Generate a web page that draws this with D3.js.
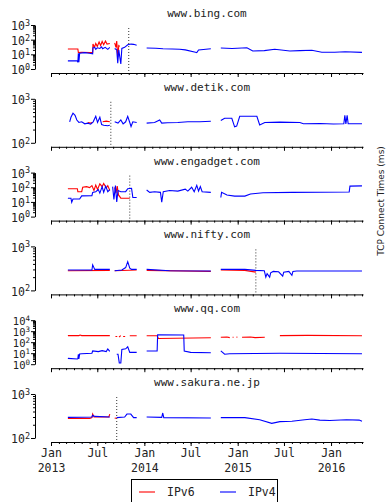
<!DOCTYPE html>
<html>
<head>
<meta charset="utf-8">
<script src="https://cdn.jsdelivr.net/npm/d3@7"></script>
<style>
  body { margin: 0; background: #fff; }
  text { font-family: "DejaVu Sans Mono", monospace; fill: #222; }
</style>
</head>
<body>
<svg id="chart" width="389" height="502"></svg>
<script>
// sites, one panel each
const sites = ["www.bing.com", "www.detik.com", "www.engadget.com", "www.nifty.com", "www.qq.com", "www.sakura.ne.jp"];
const decades = [[0, 3], [2, 3], [0, 3], [2, 3], [0, 4], [2, 3]];
// date at which the dotted marker is drawn (null = none)
const cutover = ["2013-11-01", "2013-08-23", "2013-11-05", "2015-03-13", null, "2013-09-15"];
const seriesNames = ["IPv6", "IPv4"];
const xTickLabels = ["Jan 2013", "Jul", "Jan 2014", "Jul", "Jan 2015", "Jul", "Jan 2016"];

// [date, ms] ; null value = gap in the measurements
const bingV6 = [["2013-03-08",23],["2013-04-16",23],["2013-04-18",13],["2013-05-01",14],["2013-06-01",13],["2013-06-13",14],
  ["2013-06-14",50],["2013-06-20",30],["2013-06-25",55],["2013-07-01",35],["2013-07-08",70],["2013-07-14",40],["2013-07-20",75],
  ["2013-07-26",45],["2013-08-02",80],["2013-08-08",50],["2013-08-19",55],["2013-08-25",null],
  ["2013-09-07",60],["2013-09-12",30],["2013-09-15",80],["2013-09-19",6.6],["2013-09-23",40],["2013-09-27",35]];
const bingV4 = [["2013-03-08",3.6],["2013-04-14",3.6],["2013-04-16",2.8],["2013-04-18",12],["2013-04-20",2.9],["2013-04-23",12],
  ["2013-05-13",13],["2013-06-01",12],["2013-06-13",11],["2013-06-14",27],["2013-06-21",30],["2013-06-25",22],["2013-07-01",28],
  ["2013-07-11",25],["2013-07-18",32],["2013-07-22",24],["2013-08-01",30],["2013-08-11",22],["2013-08-19",30],["2013-08-25",null],
  ["2013-09-07",25],["2013-09-15",20],["2013-09-19",2.5],["2013-09-23",20],["2013-10-01",2.2],["2013-10-05",25],["2013-10-16",30],
  ["2013-10-28",45],["2013-11-10",50],["2013-11-20",48],["2013-12-02",42],["2013-12-20",null],
  ["2014-01-10",27],["2014-02-15",26],["2014-03-15",24],["2014-04-20",23],["2014-05-19",22],["2014-06-10",20],["2014-07-20",14],
  ["2014-07-25",13],["2014-08-01",20],["2014-09-18",24],["2014-10-05",null],
  ["2014-10-27",27],["2014-12-10",25],["2015-02-06",28],["2015-03-01",17],["2015-04-15",18],["2015-05-26",22],["2015-07-24",17],
  ["2015-09-01",18],["2015-10-18",19],["2015-11-26",14],["2016-01-15",14],["2016-02-25",15],["2016-05-01",13.5]];

const detikV6 = [["2013-05-25",290],["2013-06-05",280],["2013-06-12",290],["2013-06-20",null],
  ["2013-07-22",300],["2013-08-05",310],["2013-08-19",300]];
const detikV4 = [["2013-03-15",300],["2013-03-20",380],["2013-03-28",470],["2013-04-05",420],["2013-04-12",330],["2013-04-20",290],
  ["2013-05-01",300],["2013-05-13",270],["2013-05-25",280],["2013-06-05",265],["2013-06-15",300],["2013-06-25",400],["2013-07-02",290],
  ["2013-07-11",380],["2013-07-18",260],["2013-07-26",250],["2013-08-11",245],["2013-08-19",250],["2013-08-28",null],
  ["2013-09-07",300],["2013-09-20",280],["2013-10-01",330],["2013-10-10",270],["2013-10-20",300],["2013-10-28",400],["2013-11-05",290],
  ["2013-11-10",235],["2013-11-17",300],["2013-12-02",290],["2013-12-20",null],
  ["2014-01-10",280],["2014-02-10",290],["2014-03-02",330],["2014-03-10",280],["2014-04-01",285],["2014-05-12",290],["2014-06-20",300],
  ["2014-08-06",300],["2014-09-18",310],["2014-10-05",null],
  ["2014-10-27",320],["2014-11-11",360],["2014-12-09",360],["2014-12-20",230],["2014-12-28",240],["2015-01-09",400],["2015-03-17",400],
  ["2015-03-28",255],["2015-04-17",290],["2015-06-15",295],["2015-09-01",290],["2015-09-15",270],["2015-11-20",275],["2016-01-10",268],
  ["2016-02-20",270],["2016-02-24",420],["2016-02-28",270],["2016-03-04",420],["2016-03-08",270],["2016-05-01",270]];

const engadgetV6 = [["2013-03-08",80],["2013-04-14",80],["2013-04-16",50],["2013-05-01",50],["2013-05-05",100],["2013-05-20",110],
  ["2013-06-01",95],["2013-06-10",130],["2013-06-18",60],["2013-06-25",140],["2013-07-02",70],["2013-07-11",170],["2013-07-20",110],
  ["2013-07-26",180],["2013-08-05",90],["2013-08-11",130],["2013-08-19",60],["2013-08-28",null],
  ["2013-09-07",100],["2013-09-12",40],["2013-09-17",120],["2013-09-22",30],["2013-10-01",18],["2013-11-05",18]];
const engadgetV4 = [["2013-03-08",18],["2013-03-20",18],["2013-03-23",9.5],["2013-03-28",16],["2013-04-23",16],["2013-05-01",26],
  ["2013-06-10",27],["2013-06-13",45],["2013-06-25",50],["2013-07-05",70],["2013-07-11",40],["2013-07-20",110],["2013-07-26",45],
  ["2013-08-03",120],["2013-08-11",50],["2013-08-19",70],["2013-08-25",null],
  ["2013-08-30",110],["2013-09-04",15],["2013-09-10",130],["2013-09-15",10],["2013-09-20",60],["2013-10-01",50],["2013-10-20",50],
  ["2013-10-28",80],["2013-11-12",85],["2013-11-17",20],["2013-12-02",20],["2013-12-20",null],
  ["2014-01-10",65],["2014-01-22",45],["2014-02-10",50],["2014-03-05",45],["2014-03-10",9.5],["2014-03-16",50],["2014-04-10",60],
  ["2014-05-12",55],["2014-06-10",75],["2014-06-20",55],["2014-07-05",100],["2014-07-15",50],["2014-07-25",135],["2014-08-01",55],
  ["2014-08-08",110],["2014-08-15",50],["2014-09-18",45],["2014-10-05",null],
  ["2014-10-27",20],["2014-10-30",45],["2014-11-20",30],["2014-12-20",25],["2015-01-29",25],["2015-02-20",35],["2015-04-10",42],
  ["2015-08-01",45],["2016-03-12",48],["2016-03-15",120],["2016-05-01",125]];

const niftyV6 = [["2013-03-08",280],["2013-08-19",285],["2013-08-28",null],["2013-09-07",280],["2013-12-02",290],["2013-12-20",null],
  ["2014-01-10",285],["2014-09-18",270],["2014-10-05",null],["2014-10-27",290],["2015-01-29",285],["2015-03-13",260]];
const niftyV4 = [["2013-03-08",290],["2013-06-10",290],["2013-06-13",380],["2013-06-21",300],["2013-08-19",300],["2013-08-28",null],
  ["2013-09-07",280],["2013-10-05",290],["2013-10-20",330],["2013-10-28",450],["2013-11-05",320],["2013-11-12",300],["2013-12-02",300],
  ["2013-12-20",null],
  ["2014-01-10",300],["2014-04-10",280],["2014-09-18",275],["2014-10-05",null],
  ["2014-10-27",300],["2015-01-29",300],["2015-03-13",285],["2015-04-15",280],["2015-04-21",200],["2015-04-26",240],["2015-05-06",200],
  ["2015-05-10",250],["2015-05-20",270],["2015-06-10",265],["2015-06-26",210],["2015-06-30",260],["2015-07-20",270],["2015-08-01",220],
  ["2015-08-05",270],["2015-08-20",275],["2016-05-01",275]];

const qqV6 = [["2013-03-08",400],["2013-04-20",400],["2013-04-25",450],["2013-05-01",400],["2013-08-19",400],["2013-08-28",null],
  ["2013-09-10",330],["2013-09-17",330],["2013-09-20",null],["2013-09-24",300],["2013-10-01",400],["2013-10-04",null],
  ["2013-10-10",330],["2013-10-18",330],["2013-10-24",null],["2013-11-05",380],["2013-12-02",380],["2013-12-20",null],
  ["2014-01-10",380],["2014-02-20",380],["2014-02-25",220],["2014-09-18",250],["2014-10-05",null],
  ["2014-10-27",280],["2014-11-20",300],["2014-12-01",260],["2014-12-03",null],["2014-12-12",280],["2014-12-16",280],["2014-12-18",null],
  ["2014-12-27",280],["2014-12-31",300],["2015-01-02",null],["2015-01-18",280],["2015-02-20",300],["2015-03-10",260],["2015-04-17",280],
  ["2015-04-20",null],["2015-06-15",400],["2015-10-01",420],["2016-05-01",380]];
const qqV4 = [["2013-03-08",3.4],["2013-04-14",3.0],["2013-04-16",3.2],["2013-04-18",8],["2013-04-20",3],["2013-04-23",8.5],
  ["2013-05-01",9],["2013-06-10",10],["2013-06-13",16],["2013-07-05",14],["2013-07-20",17],["2013-08-05",14],["2013-08-11",24],
  ["2013-08-19",15],["2013-08-28",null],
  ["2013-09-15",8],["2013-09-20",8],["2013-09-25",1.3],["2013-10-01",1.3],["2013-10-05",22],["2013-10-20",25],["2013-10-28",38],
  ["2013-11-05",12],["2013-12-02",12],["2013-12-20",null],
  ["2014-01-10",16],["2014-02-20",16],["2014-02-22",470],["2014-06-04",450],["2014-06-06",16],["2014-07-01",12],["2014-09-18",11],
  ["2014-10-05",null],
  ["2014-10-27",16],["2014-11-11",8],["2014-12-01",9],["2015-06-15",10],["2016-05-01",9]];

const sakuraV6 = [["2013-03-08",280],["2013-06-02",280],["2013-06-10",290],["2013-06-13",350],["2013-06-18",300],["2013-08-15",300],
  ["2013-08-19",350],["2013-08-28",null],["2013-09-07",280],["2013-09-15",285]];
const sakuraV4 = [["2013-03-08",295],["2013-06-10",300],["2013-06-13",330],["2013-06-21",310],["2013-08-19",300],["2013-08-28",null],
  ["2013-09-15",290],["2013-10-16",300],["2013-10-25",350],["2013-11-09",350],["2013-11-20",290],["2013-12-02",290],["2013-12-20",null],
  ["2014-01-10",300],["2014-03-10",295],["2014-03-14",370],["2014-03-18",290],["2014-09-18",285],["2014-10-05",null],
  ["2014-10-27",290],["2015-01-29",290],["2015-03-28",260],["2015-05-14",215],["2015-06-15",235],["2015-08-01",240],["2015-09-20",260],
  ["2015-10-18",270],["2015-11-18",255],["2015-12-27",250],["2016-03-01",260],["2016-04-20",255],["2016-05-01",240]];

const v6 = [bingV6, detikV6, engadgetV6, niftyV6, qqV6, sakuraV6];
const v4 = [bingV4, detikV4, engadgetV4, niftyV4, qqV4, sakuraV4];
const colors = ["#ff0000", "#0000ff"];

const svg = d3.select("#chart");
const parse = d3.timeParse("%Y-%m-%d");

const x = d3.scaleTime()
  .domain([new Date(2013, 0, 1), new Date(2016, 4, 5)])
  .range([51, 363]);

const panelStep = 73.8, panelTop = 25, plotH = 44, axisGap = 4;

sites.forEach((name, i) => {
  const top = panelTop + i * panelStep;
  const [lo, hi] = decades[i];
  const y = d3.scaleLog().domain([Math.pow(10, lo), Math.pow(10, hi)]).range([top + plotH, top]);
  const axisY = top + plotH + axisGap;
  const g = svg.append("g");

  // title
  g.append("text")
    .attr("x", 207).attr("y", top - 8)
    .attr("text-anchor", "middle")
    .style("font-size", "11px")
    .text(name);

  // y axis: minor then major
  const minors = [];
  for (let d = lo; d < hi; d++) for (let k = 2; k < 10; k++) minors.push(k * Math.pow(10, d));
  const majors = d3.range(lo, hi + 1).map(d => Math.pow(10, d));

  g.append("g")
    .attr("transform", "translate(35,0)")
    .call(d3.axisLeft(y).tickValues(minors).tickSize(2).tickSizeOuter(0).tickFormat(""))
    .call(a => a.select(".domain").remove());

  const ya = g.append("g")
    .attr("transform", "translate(35,0)")
    .call(d3.axisLeft(y).tickValues(majors).tickSize(4).tickSizeOuter(0).tickFormat(""));

  const fs = hi - lo > 3 ? 10.5 : 11.5;
  ya.selectAll(".tick").append("text")
    .attr("x", -5).attr("dy", "0.4em")
    .attr("text-anchor", "end")
    .style("font-size", fs + "px")
    .attr("fill", "#222")
    .text("10")
    .append("tspan")
      .attr("dy", "-0.5em")
      .style("font-size", (fs - 3) + "px")
      .text(d => Math.round(Math.log10(d)));

  // x axis: monthly minor, half-yearly major
  const months = d3.timeMonth.range(new Date(2013, 0, 1), new Date(2016, 4, 2));
  const half = months.filter(m => m.getMonth() % 6 === 0);
  g.append("g")
    .attr("transform", `translate(0,${axisY})`)
    .call(d3.axisBottom(x).tickValues(months).tickSize(2).tickSizeOuter(0).tickFormat(""))
    .call(a => a.select(".domain").remove());
  const xa = g.append("g")
    .attr("transform", `translate(0,${axisY})`)
    .call(d3.axisBottom(x).tickValues(half).tickSize(4).tickSizeOuter(0).tickFormat(""));
  g.selectAll("line, path.domain").attr("stroke", "#000");

  if (i === sites.length - 1) {
    xa.selectAll(".tick").each(function(d, j) {
      const parts = xTickLabels[j].split(" ");
      const t = d3.select(this).append("text")
        .attr("text-anchor", "middle")
        .attr("fill", "#222")
        .style("font-size", "11.5px");
      t.append("tspan").attr("x", 0).attr("y", 15).text(parts[0]);
      if (parts[1]) t.append("tspan").attr("x", 0).attr("y", 30).text(parts[1]);
    });
  }

  // dotted cut-over marker
  if (cutover[i]) {
    const cx = x(parse(cutover[i]));
    g.append("line")
      .attr("x1", cx).attr("x2", cx)
      .attr("y1", top + 3).attr("y2", axisY)
      .attr("stroke", "#333")
      .attr("stroke-width", 1)
      .attr("stroke-dasharray", "1,2");
  }

  const line = d3.line()
    .defined(d => d[1] != null)
    .x(d => x(parse(d[0])))
    .y(d => y(d[1]));

  [v6[i], v4[i]].forEach((s, k) => {
    g.append("path")
      .datum(s)
      .attr("fill", "none")
      .attr("stroke", colors[k])
      .attr("stroke-width", 1.1)
      .attr("d", line);
  });
});

// shared y label
svg.append("text")
  .attr("transform", "translate(384,201) rotate(-90)")
  .attr("text-anchor", "middle")
  .style("font-family", "'DejaVu Sans', sans-serif")
  .style("font-size", "9px")
  .text("TCP Connect Times (ms)");

// legend
const lg = svg.append("g");
lg.append("rect")
  .attr("x", 131.5).attr("y", 479.5)
  .attr("width", 146).attr("height", 30)
  .attr("fill", "#fff").attr("stroke", "#000");
seriesNames.forEach((n, k) => {
  const lx = 139 + k * 81;
  lg.append("line")
    .attr("x1", lx).attr("x2", lx + 16)
    .attr("y1", 492).attr("y2", 492)
    .attr("stroke", colors[k]).attr("stroke-width", 1.1);
  lg.append("text")
    .attr("x", lx + 28).attr("y", 496)
    .style("font-size", "11.5px")
    .text(n);
});
</script>
</body>
</html>
